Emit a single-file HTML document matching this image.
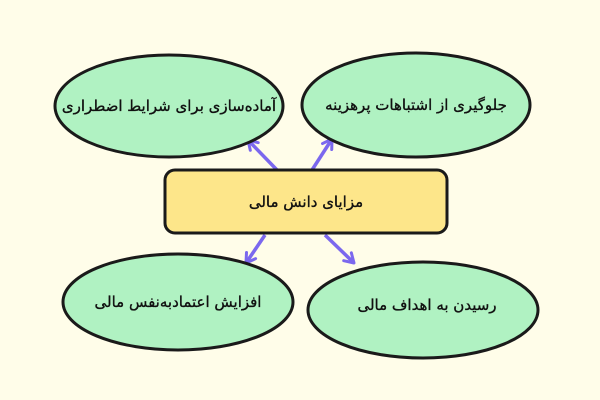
<!DOCTYPE html>
<html><head><meta charset="utf-8"><style>
html,body{margin:0;padding:0;background:#fffde9;}
svg{display:block}
text{font-family:"DejaVu Sans","Liberation Sans",sans-serif;font-size:15px;fill:#111;stroke:#111;stroke-width:0.35;}
</style></head><body>
<svg width="600" height="400" viewBox="0 0 600 400" xmlns="http://www.w3.org/2000/svg">
<rect width="600" height="400" fill="#fffde9"/>
<defs>
<marker id="a" markerWidth="14" markerHeight="14" refX="11" refY="7" orient="auto" markerUnits="userSpaceOnUse">
<path d="M2,1.5 L11,7 L2,12.5" fill="none" stroke="#7b68ee" stroke-width="3" stroke-linecap="round" stroke-linejoin="round"/>
</marker>
</defs>
<g stroke="#7b68ee" stroke-width="3.5" fill="none" marker-end="url(#a)">
<line x1="277" y1="170" x2="248" y2="140"/>
<line x1="312" y1="170" x2="332" y2="139"/>
<line x1="265" y1="235" x2="246" y2="263"/>
<line x1="325" y1="235" x2="354" y2="263"/>
</g>
<g fill="#b0f2c2" stroke="#1a1a1a" stroke-width="3">
<ellipse cx="169" cy="106" rx="114" ry="51"/>
<ellipse cx="416" cy="105" rx="114" ry="52"/>
<ellipse cx="178" cy="302" rx="115" ry="48"/>
<ellipse cx="423" cy="310" rx="115" ry="48"/>
</g>
<rect x="165" y="170" width="282" height="63" rx="10" fill="#fde68a" stroke="#1a1a1a" stroke-width="3"/>
<g text-anchor="middle" direction="rtl">
<text x="169" y="111">آماده‌سازی برای شرایط اضطراری</text>
<text x="416" y="110">جلوگیری از اشتباهات پرهزینه</text>
<text x="306" y="207">مزایای دانش مالی</text>
<text x="178" y="307">افزایش اعتمادبه‌نفس مالی</text>
<text x="427" y="310">رسیدن به اهداف مالی</text>
</g>
</svg>
</body></html>
